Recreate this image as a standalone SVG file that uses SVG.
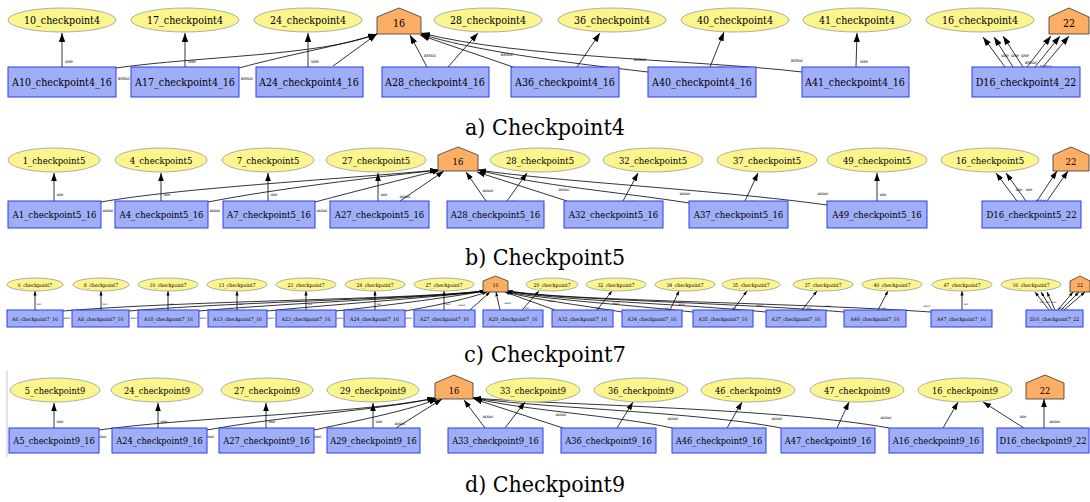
<svg xmlns="http://www.w3.org/2000/svg" width="1090" height="502" viewBox="0 0 1090 502" font-family="DejaVu Serif Condensed, DejaVu Serif, serif">
<style>
  .el{fill:#fbf58e;stroke:#9a9a9a;stroke-width:0.8}
  .nd{fill:#a0aef8;stroke:#2b3bf5;stroke-width:1}
  .pt{fill:#fcae64;stroke:#333;stroke-width:0.8}
  .e{fill:none;stroke:#000;stroke-width:0.8}
  .t{fill:#000;text-anchor:middle;dominant-baseline:central}
  .ta{font-size:10.6px}
  .tb{font-size:9.5px}
  .tc{font-size:5.2px}
  .td{font-size:9.2px}
  .lb{fill:#000;text-anchor:middle}
  .la{font-size:5px}
  .lbb{font-size:4.4px}
  .lc{font-size:2.8px}
  .ld{font-size:4.4px}
  .cap{font-family:"DejaVu Serif",serif;font-size:23px;fill:#000;text-anchor:middle}
  .ea{marker-end:url(#ha)}
  .eb{marker-end:url(#hb)}
  .ec{marker-end:url(#hc)}
</style>
<defs>
  <marker id="ha" viewBox="0 0 10 7" refX="10" refY="3.5" markerWidth="9" markerHeight="6.5" markerUnits="userSpaceOnUse" orient="auto"><path d="M0,0 L10,3.5 L0,7 z" fill="#000"/></marker>
  <marker id="hb" viewBox="0 0 10 7" refX="10" refY="3.5" markerWidth="8" markerHeight="6" markerUnits="userSpaceOnUse" orient="auto"><path d="M0,0 L10,3.5 L0,7 z" fill="#000"/></marker>
  <marker id="hc" viewBox="0 0 10 7" refX="10" refY="3.5" markerWidth="4.5" markerHeight="3.2" markerUnits="userSpaceOnUse" orient="auto"><path d="M0,0 L10,3.5 L0,7 z" fill="#000"/></marker>
</defs>

<!-- ===== a) Checkpoint4 ===== -->
<g id="edges-a">
  <path class="e ea" d="M62,67 L62,33"/>
  <path class="e ea" d="M185,67 L185,33"/>
  <path class="e ea" d="M308,67 L308,33"/>
  <path class="e ea" d="M856,67 L857,33"/>
  <path class="e ea" d="M448,67 L478,33"/>
  <path class="e ea" d="M577,67 L600,33"/>
  <path class="e ea" d="M710,67 L724,32"/>
  <path class="e ea" d="M1005,67 L983,37"/>
  <path class="e ea" d="M1013,67 L994,37"/>
  <path class="e ea" d="M1023,67 L1003,36"/>
  <path class="e ea" d="M116,68 C200,56 320,56 377,34"/>
  <path class="e ea" d="M239,68 C290,54 340,46 377,34"/>
  <path class="e ea" d="M333,66 L377,34"/>
  <path class="e ea" d="M427,67 L410,35"/>
  <path class="e ea" d="M513,67 L420,35"/>
  <path class="e ea" d="M648,72 C560,62 470,50 421,34"/>
  <path class="e ea" d="M802,72 C700,60 520,58 421,33"/>
  <path class="e ea" d="M1027,67 L1051,36"/>
  <path class="e ea" d="M1035,67 L1060,36"/>
  <path class="e ea" d="M1043,67 L1069,36"/>
  <g class="lb la">
    <text x="69" y="63">use</text><text x="192" y="63">use</text><text x="315" y="63">use</text><text x="864" y="63">use</text>
    <text x="460" y="71">use</text><text x="588" y="71">use</text><text x="722" y="69">use</text>
    <text x="1005" y="57">use</text><text x="1015" y="57">use</text><text x="1025" y="57">use</text>
    <text x="124" y="80">assoc</text><text x="247" y="80">assoc</text><text x="341" y="74">assoc</text>
    <text x="430" y="57">assoc</text><text x="507" y="56">assoc</text><text x="640" y="61">assoc</text><text x="797" y="62">assoc</text>
    <text x="1031" y="64">assoc</text><text x="1046" y="68">assoc</text><text x="1061" y="72">assoc</text>
  </g>
</g>
<g id="a-16"><polygon class="pt" points="399,8 421,17 421,34 377,34 377,17"/><text class="t ta" x="399" y="23">16</text></g>
<g id="a-22"><polygon class="pt" points="1069,8 1089,17 1089,34 1049,34 1049,17"/><text class="t ta" x="1069" y="23">22</text></g>
<g id="a-10"><ellipse class="el" cx="62" cy="20" rx="54" ry="12"/><text class="t ta" x="62" y="20">10_checkpoint4</text></g>
<g id="a-17"><ellipse class="el" cx="185" cy="20" rx="54" ry="12"/><text class="t ta" x="185" y="20">17_checkpoint4</text></g>
<g id="a-24"><ellipse class="el" cx="308" cy="20" rx="54" ry="12"/><text class="t ta" x="308" y="20">24_checkpoint4</text></g>
<g id="a-28"><ellipse class="el" cx="488" cy="20" rx="54" ry="12"/><text class="t ta" x="488" y="20">28_checkpoint4</text></g>
<g id="a-36"><ellipse class="el" cx="612" cy="20" rx="54" ry="12"/><text class="t ta" x="612" y="20">36_checkpoint4</text></g>
<g id="a-40"><ellipse class="el" cx="735" cy="20" rx="54" ry="12"/><text class="t ta" x="735" y="20">40_checkpoint4</text></g>
<g id="a-41"><ellipse class="el" cx="857" cy="20" rx="54" ry="12"/><text class="t ta" x="857" y="20">41_checkpoint4</text></g>
<g id="a-16c"><ellipse class="el" cx="980" cy="20" rx="54" ry="12"/><text class="t ta" x="980" y="20">16_checkpoint4</text></g>
<g id="a-A10"><rect class="nd" x="8" y="67" width="108" height="30"/><text class="t ta" x="62" y="82">A10_checkpoint4_16</text></g>
<g id="a-A17"><rect class="nd" x="131" y="67" width="108" height="30"/><text class="t ta" x="185" y="82">A17_checkpoint4_16</text></g>
<g id="a-A24"><rect class="nd" x="256" y="67" width="107" height="30"/><text class="t ta" x="309" y="82">A24_checkpoint4_16</text></g>
<g id="a-A28"><rect class="nd" x="382" y="67" width="107" height="30"/><text class="t ta" x="435" y="82">A28_checkpoint4_16</text></g>
<g id="a-A36"><rect class="nd" x="511" y="67" width="108" height="30"/><text class="t ta" x="565" y="82">A36_checkpoint4_16</text></g>
<g id="a-A40"><rect class="nd" x="648" y="67" width="108" height="30"/><text class="t ta" x="702" y="82">A40_checkpoint4_16</text></g>
<g id="a-A41"><rect class="nd" x="802" y="67" width="107" height="30"/><text class="t ta" x="855" y="82">A41_checkpoint4_16</text></g>
<g id="a-D16"><rect class="nd" x="972" y="67" width="108" height="30"/><text class="t ta" x="1026" y="82">D16_checkpoint4_22</text></g>
<text class="cap" x="545" y="135" textLength="160" lengthAdjust="spacingAndGlyphs">a) Checkpoint4</text>

<!-- ===== b) Checkpoint5 ===== -->
<g id="edges-b">
  <path class="e eb" d="M54,201 L54,173"/>
  <path class="e eb" d="M161,201 L161,173"/>
  <path class="e eb" d="M268,201 L268,173"/>
  <path class="e eb" d="M378,201 L378,173"/>
  <path class="e eb" d="M877,201 L877,173"/>
  <path class="e eb" d="M507,201 L527,173"/>
  <path class="e eb" d="M623,201 L638,173"/>
  <path class="e eb" d="M745,201 L758,173"/>
  <path class="e eb" d="M1017,201 L996,173"/>
  <path class="e eb" d="M1026,201 L1006,173"/>
  <path class="e eb" d="M1037,201 L1057,171"/>
  <path class="e eb" d="M1047,201 L1068,171"/>
  <path class="e eb" d="M101,202 C180,188 330,180 438,170"/>
  <path class="e eb" d="M208,202 C280,188 370,178 438,170"/>
  <path class="e eb" d="M315,202 C360,190 400,180 440,170"/>
  <path class="e eb" d="M400,201 L444,171"/>
  <path class="e eb" d="M486,201 L466,172"/>
  <path class="e eb" d="M567,201 L477,172"/>
  <path class="e eb" d="M689,203 C620,192 540,186 478,170"/>
  <path class="e eb" d="M827,205 C720,190 560,182 478,170"/>
  <g class="lb lbb">
    <text x="60" y="196">use</text><text x="167" y="196">use</text><text x="274" y="196">use</text><text x="384" y="196">use</text><text x="883" y="196">use</text>
    <text x="514" y="203">use</text><text x="633" y="203">use</text><text x="753" y="203">use</text>
    <text x="1019" y="191">use</text><text x="1029" y="191">use</text>
    <text x="108" y="212">assoc</text><text x="215" y="212">assoc</text><text x="322" y="212">assoc</text><text x="405" y="198">assoc</text>
    <text x="488" y="192">assoc</text><text x="564" y="191">assoc</text><text x="685" y="195">assoc</text><text x="823" y="195">assoc</text>
    <text x="1041" y="202">assoc</text><text x="1055" y="205">assoc</text>
  </g>
</g>
<g id="b-16"><polygon class="pt" points="458,147 478,155 478,171 438,171 438,155"/><text class="t tb" x="458" y="161">16</text></g>
<g id="b-22"><polygon class="pt" points="1071,147 1089,155 1089,171 1053,171 1053,155"/><text class="t tb" x="1071" y="161">22</text></g>
<g id="b-1"><ellipse class="el" cx="54" cy="160" rx="46" ry="12"/><text class="t tb" x="54" y="160">1_checkpoint5</text></g>
<g id="b-4"><ellipse class="el" cx="161" cy="160" rx="46" ry="12"/><text class="t tb" x="161" y="160">4_checkpoint5</text></g>
<g id="b-7"><ellipse class="el" cx="268" cy="160" rx="46" ry="12"/><text class="t tb" x="268" y="160">7_checkpoint5</text></g>
<g id="b-27"><ellipse class="el" cx="376" cy="160" rx="50" ry="12"/><text class="t tb" x="376" y="160">27_checkpoint5</text></g>
<g id="b-28"><ellipse class="el" cx="540" cy="160" rx="50" ry="12"/><text class="t tb" x="540" y="160">28_checkpoint5</text></g>
<g id="b-32"><ellipse class="el" cx="653" cy="160" rx="50" ry="12"/><text class="t tb" x="653" y="160">32_checkpoint5</text></g>
<g id="b-37"><ellipse class="el" cx="767" cy="160" rx="50" ry="12"/><text class="t tb" x="767" y="160">37_checkpoint5</text></g>
<g id="b-49"><ellipse class="el" cx="877" cy="160" rx="50" ry="12"/><text class="t tb" x="877" y="160">49_checkpoint5</text></g>
<g id="b-16c"><ellipse class="el" cx="990" cy="160" rx="49" ry="12"/><text class="t tb" x="990" y="160">16_checkpoint5</text></g>
<g id="b-A1"><rect class="nd" x="8" y="201" width="93" height="27"/><text class="t tb" x="54.5" y="214.5">A1_checkpoint5_16</text></g>
<g id="b-A4"><rect class="nd" x="115" y="201" width="93" height="27"/><text class="t tb" x="161.5" y="214.5">A4_checkpoint5_16</text></g>
<g id="b-A7"><rect class="nd" x="223" y="201" width="92" height="27"/><text class="t tb" x="269" y="214.5">A7_checkpoint5_16</text></g>
<g id="b-A27"><rect class="nd" x="330" y="201" width="99" height="27"/><text class="t tb" x="379.5" y="214.5">A27_checkpoint5_16</text></g>
<g id="b-A28"><rect class="nd" x="447" y="201" width="97" height="27"/><text class="t tb" x="495.5" y="214.5">A28_checkpoint5_16</text></g>
<g id="b-A32"><rect class="nd" x="564" y="201" width="99" height="27"/><text class="t tb" x="613.5" y="214.5">A32_checkpoint5_16</text></g>
<g id="b-A37"><rect class="nd" x="689" y="201" width="99" height="27"/><text class="t tb" x="738.5" y="214.5">A37_checkpoint5_16</text></g>
<g id="b-A49"><rect class="nd" x="827" y="201" width="100" height="27"/><text class="t tb" x="877" y="214.5">A49_checkpoint5_16</text></g>
<g id="b-D16"><rect class="nd" x="982" y="201" width="99" height="27"/><text class="t tb" x="1031.5" y="214.5">D16_checkpoint5_22</text></g>
<text class="cap" x="545" y="265" textLength="160" lengthAdjust="spacingAndGlyphs">b) Checkpoint5</text>

<!-- ===== c) Checkpoint7 ===== -->
<g id="edges-c">
  <path class="e ec" d="M35,310 L35,291"/>
  <path class="e ec" d="M101,310 L101,291"/>
  <path class="e ec" d="M168,310 L168,291"/>
  <path class="e ec" d="M237,310 L237,291"/>
  <path class="e ec" d="M306,310 L306,291"/>
  <path class="e ec" d="M375,310 L375,291"/>
  <path class="e ec" d="M444,310 L444,291"/>
  <path class="e ec" d="M962,310 L962,291"/>
  <path class="e ec" d="M522,310 L539,291"/>
  <path class="e ec" d="M597,310 L612,291"/>
  <path class="e ec" d="M670,310 L679,291"/>
  <path class="e ec" d="M733,310 L747,291"/>
  <path class="e ec" d="M802,310 L817,291"/>
  <path class="e ec" d="M878,310 L888,291"/>
  <path class="e ec" d="M1049,310 L1035,292"/>
  <path class="e ec" d="M1052,310 L1041,292"/>
  <path class="e ec" d="M1055,310 L1047,292"/>
  <path class="e ec" d="M1058,310 L1073,292"/>
  <path class="e ec" d="M1061,310 L1079,292"/>
  <path class="e ec" d="M1064,310 L1085,292"/>
  <path class="e ec" d="M63,311 C200,300 400,300 484,291"/>
  <path class="e ec" d="M129,311 C250,301 420,299 484,291"/>
  <path class="e ec" d="M199,311 C300,302 430,298 485,291"/>
  <path class="e ec" d="M267,311 C350,303 440,297 485,291"/>
  <path class="e ec" d="M336,311 C400,304 450,297 486,291"/>
  <path class="e ec" d="M405,311 C440,305 470,298 487,292"/>
  <path class="e ec" d="M470,310 L490,292"/>
  <path class="e ec" d="M500,310 L496,292"/>
  <path class="e ec" d="M555,310 L505,292"/>
  <path class="e ec" d="M622,312 C580,305 530,299 507,292"/>
  <path class="e ec" d="M693,312 C620,304 540,299 508,292"/>
  <path class="e ec" d="M766,312 C670,303 550,300 508,291"/>
  <path class="e ec" d="M844,312 C720,302 560,300 508,291"/>
  <path class="e ec" d="M931,312 C780,302 570,301 508,291"/>
  <g class="lb lc">
    <text x="39" y="305">use</text><text x="105" y="305">use</text><text x="172" y="305">use</text><text x="241" y="305">use</text><text x="310" y="305">use</text><text x="379" y="305">use</text><text x="448" y="305">use</text><text x="966" y="305">use</text>
    <text x="527" y="309">use</text><text x="598" y="309">use</text><text x="667" y="309">use</text><text x="734" y="309">use</text><text x="809" y="309">use</text><text x="884" y="309">use</text>
    <text x="1042" y="303">use</text><text x="1048" y="303">use</text><text x="1054" y="303">use</text>
    <text x="67" y="319">assoc</text><text x="134" y="319">assoc</text><text x="203" y="319">assoc</text><text x="271" y="319">assoc</text><text x="340" y="319">assoc</text><text x="409" y="319">assoc</text>
    <text x="462" y="306">assoc</text><text x="508" y="304">assoc</text><text x="552" y="302">assoc</text><text x="616" y="304">assoc</text><text x="682" y="305">assoc</text><text x="760" y="306">assoc</text><text x="828" y="307">assoc</text><text x="927" y="307">assoc</text>
    <text x="1061" y="309">assoc</text><text x="1070" y="311">assoc</text>
  </g>
</g>
<g id="c-16"><polygon class="pt" points="495.5,276 508,281 508,292 483,292 483,281"/><text class="t tc" x="495.5" y="285">16</text></g>
<g id="c-22"><polygon class="pt" points="1080,276 1090,281 1090,292 1070,292 1070,281"/><text class="t tc" x="1080" y="285">22</text></g>
<g id="c-6"><ellipse class="el" cx="35" cy="284.5" rx="28" ry="6.5"/><text class="t tc" x="35" y="284.5">6_checkpoint7</text></g>
<g id="c-8"><ellipse class="el" cx="101" cy="284.5" rx="28" ry="6.5"/><text class="t tc" x="101" y="284.5">8_checkpoint7</text></g>
<g id="c-10"><ellipse class="el" cx="168" cy="284.5" rx="30" ry="6.5"/><text class="t tc" x="168" y="284.5">10_checkpoint7</text></g>
<g id="c-13"><ellipse class="el" cx="237" cy="284.5" rx="30" ry="6.5"/><text class="t tc" x="237" y="284.5">13_checkpoint7</text></g>
<g id="c-23"><ellipse class="el" cx="306" cy="284.5" rx="30" ry="6.5"/><text class="t tc" x="306" y="284.5">23_checkpoint7</text></g>
<g id="c-24"><ellipse class="el" cx="375" cy="284.5" rx="30" ry="6.5"/><text class="t tc" x="375" y="284.5">24_checkpoint7</text></g>
<g id="c-27"><ellipse class="el" cx="444" cy="284.5" rx="30" ry="6.5"/><text class="t tc" x="444" y="284.5">27_checkpoint7</text></g>
<g id="c-29"><ellipse class="el" cx="552" cy="284.5" rx="26" ry="6.5"/><text class="t tc" x="552" y="284.5">29_checkpoint7</text></g>
<g id="c-32"><ellipse class="el" cx="616" cy="284.5" rx="30" ry="6.5"/><text class="t tc" x="616" y="284.5">32_checkpoint7</text></g>
<g id="c-34"><ellipse class="el" cx="685" cy="284.5" rx="30" ry="6.5"/><text class="t tc" x="685" y="284.5">34_checkpoint7</text></g>
<g id="c-35"><ellipse class="el" cx="751" cy="284.5" rx="29" ry="6.5"/><text class="t tc" x="751" y="284.5">35_checkpoint7</text></g>
<g id="c-37"><ellipse class="el" cx="823" cy="284.5" rx="30" ry="6.5"/><text class="t tc" x="823" y="284.5">37_checkpoint7</text></g>
<g id="c-40"><ellipse class="el" cx="892" cy="284.5" rx="30" ry="6.5"/><text class="t tc" x="892" y="284.5">40_checkpoint7</text></g>
<g id="c-47"><ellipse class="el" cx="962" cy="284.5" rx="30" ry="6.5"/><text class="t tc" x="962" y="284.5">47_checkpoint7</text></g>
<g id="c-16c"><ellipse class="el" cx="1031" cy="284.5" rx="30" ry="6.5"/><text class="t tc" x="1031" y="284.5">16_checkpoint7</text></g>
<g id="c-A6"><rect class="nd" x="7" y="310" width="56" height="17"/><text class="t tc" x="35" y="318.5">A6_checkpoint7_16</text></g>
<g id="c-A8"><rect class="nd" x="72" y="310" width="57" height="17"/><text class="t tc" x="100.5" y="318.5">A8_checkpoint7_16</text></g>
<g id="c-A10"><rect class="nd" x="138" y="310" width="61" height="17"/><text class="t tc" x="168.5" y="318.5">A10_checkpoint7_16</text></g>
<g id="c-A13"><rect class="nd" x="208" y="310" width="59" height="17"/><text class="t tc" x="237.5" y="318.5">A13_checkpoint7_16</text></g>
<g id="c-A23"><rect class="nd" x="276" y="310" width="60" height="17"/><text class="t tc" x="306" y="318.5">A23_checkpoint7_16</text></g>
<g id="c-A24"><rect class="nd" x="344" y="310" width="61" height="17"/><text class="t tc" x="374.5" y="318.5">A24_checkpoint7_16</text></g>
<g id="c-A27"><rect class="nd" x="414" y="310" width="61" height="17"/><text class="t tc" x="444.5" y="318.5">A27_checkpoint7_16</text></g>
<g id="c-A29"><rect class="nd" x="483" y="310" width="60" height="17"/><text class="t tc" x="513" y="318.5">A29_checkpoint7_16</text></g>
<g id="c-A32"><rect class="nd" x="552" y="310" width="61" height="17"/><text class="t tc" x="582.5" y="318.5">A32_checkpoint7_16</text></g>
<g id="c-A34"><rect class="nd" x="622" y="310" width="60" height="17"/><text class="t tc" x="652" y="318.5">A34_checkpoint7_16</text></g>
<g id="c-A35"><rect class="nd" x="693" y="310" width="60" height="17"/><text class="t tc" x="723" y="318.5">A35_checkpoint7_16</text></g>
<g id="c-A37"><rect class="nd" x="766" y="310" width="60" height="17"/><text class="t tc" x="796" y="318.5">A37_checkpoint7_16</text></g>
<g id="c-A40"><rect class="nd" x="844" y="310" width="62" height="17"/><text class="t tc" x="875" y="318.5">A40_checkpoint7_16</text></g>
<g id="c-A47"><rect class="nd" x="931" y="310" width="61" height="17"/><text class="t tc" x="961.5" y="318.5">A47_checkpoint7_16</text></g>
<g id="c-D16"><rect class="nd" x="1026" y="310" width="57" height="17"/><text class="t tc" x="1054.5" y="318.5">D16_checkpoint7_22</text></g>
<text class="cap" x="545" y="362" textLength="162" lengthAdjust="spacingAndGlyphs">c) Checkpoint7</text>

<!-- ===== d) Checkpoint9 ===== -->
<line x1="7" y1="371" x2="7" y2="457" stroke="#c8c8c8" stroke-width="1"/>
<g id="edges-d">
  <path class="e eb" d="M54,428 L54,403"/>
  <path class="e eb" d="M158,428 L158,403"/>
  <path class="e eb" d="M266,428 L266,403"/>
  <path class="e eb" d="M373,428 L373,403"/>
  <path class="e eb" d="M505,428 L525,402"/>
  <path class="e eb" d="M617,428 L633,402"/>
  <path class="e eb" d="M727,428 L742,402"/>
  <path class="e eb" d="M837,428 L849,402"/>
  <path class="e eb" d="M943,428 L958,402"/>
  <path class="e eb" d="M1024,428 L983,402"/>
  <path class="e eb" d="M1044,428 L1044,399"/>
  <path class="e eb" d="M485,428 L464,400"/>
  <path class="e eb" d="M563,428 L474,399"/>
  <path class="e eb" d="M672,428 C620,416 520,410 473,398"/>
  <path class="e eb" d="M781,428 C700,412 540,408 473,398"/>
  <path class="e eb" d="M889,428 C780,408 560,405 473,398"/>
  <path class="e eb" d="M99,430 C200,416 360,414 435,398"/>
  <path class="e eb" d="M207,430 C290,415 380,410 436,398"/>
  <path class="e eb" d="M314,430 C370,418 410,410 437,399"/>
  <path class="e eb" d="M396,428 L442,399"/>
  <g class="lb ld">
    <text x="60" y="423">use</text><text x="164" y="423">use</text><text x="272" y="423">use</text><text x="379" y="423">use</text>
    <text x="512" y="431">use</text><text x="626" y="431">use</text><text x="737" y="430">use</text><text x="847" y="430">use</text><text x="955" y="430">use</text><text x="1023" y="418">use</text>
    <text x="101" y="438">assoc</text><text x="209" y="438">assoc</text><text x="316" y="438">assoc</text><text x="400" y="425">assoc</text>
    <text x="488" y="418">assoc</text><text x="561" y="416">assoc</text><text x="673" y="420">assoc</text><text x="777" y="420">assoc</text><text x="886" y="419">assoc</text><text x="1055" y="423">assoc</text>
  </g>
</g>
<g id="d-16"><polygon class="pt" points="454,375 473,383 473,399 435,399 435,383"/><text class="t td" x="454" y="390">16</text></g>
<g id="d-22"><polygon class="pt" points="1045,375 1064,383 1064,399 1026,399 1026,383"/><text class="t td" x="1045" y="390">22</text></g>
<g id="d-5"><ellipse class="el" cx="55" cy="390" rx="45" ry="12"/><text class="t td" x="55" y="390">5_checkpoint9</text></g>
<g id="d-24"><ellipse class="el" cx="157" cy="390" rx="46" ry="12"/><text class="t td" x="157" y="390">24_checkpoint9</text></g>
<g id="d-27"><ellipse class="el" cx="267" cy="390" rx="46" ry="12"/><text class="t td" x="267" y="390">27_checkpoint9</text></g>
<g id="d-29"><ellipse class="el" cx="373" cy="390" rx="46" ry="12"/><text class="t td" x="373" y="390">29_checkpoint9</text></g>
<g id="d-33"><ellipse class="el" cx="533" cy="390" rx="47" ry="12"/><text class="t td" x="533" y="390">33_checkpoint9</text></g>
<g id="d-36"><ellipse class="el" cx="641" cy="390" rx="47" ry="12"/><text class="t td" x="641" y="390">36_checkpoint9</text></g>
<g id="d-46"><ellipse class="el" cx="748" cy="390" rx="47" ry="12"/><text class="t td" x="748" y="390">46_checkpoint9</text></g>
<g id="d-47"><ellipse class="el" cx="857" cy="390" rx="47" ry="12"/><text class="t td" x="857" y="390">47_checkpoint9</text></g>
<g id="d-16c"><ellipse class="el" cx="965" cy="390" rx="47" ry="12"/><text class="t td" x="965" y="390">16_checkpoint9</text></g>
<g id="d-A5"><rect class="nd" x="9" y="428" width="90" height="25"/><text class="t td" x="54" y="440.5">A5_checkpoint9_16</text></g>
<g id="d-A24"><rect class="nd" x="112" y="428" width="95" height="25"/><text class="t td" x="159.5" y="440.5">A24_checkpoint9_16</text></g>
<g id="d-A27"><rect class="nd" x="219" y="428" width="95" height="25"/><text class="t td" x="266.5" y="440.5">A27_checkpoint9_16</text></g>
<g id="d-A29"><rect class="nd" x="327" y="428" width="93" height="25"/><text class="t td" x="373.5" y="440.5">A29_checkpoint9_16</text></g>
<g id="d-A33"><rect class="nd" x="448" y="428" width="95" height="25"/><text class="t td" x="495.5" y="440.5">A33_checkpoint9_16</text></g>
<g id="d-A36"><rect class="nd" x="561" y="428" width="95" height="25"/><text class="t td" x="608.5" y="440.5">A36_checkpoint9_16</text></g>
<g id="d-A46"><rect class="nd" x="672" y="428" width="94" height="25"/><text class="t td" x="719" y="440.5">A46_checkpoint9_16</text></g>
<g id="d-A47"><rect class="nd" x="781" y="428" width="94" height="25"/><text class="t td" x="828" y="440.5">A47_checkpoint9_16</text></g>
<g id="d-A16"><rect class="nd" x="889" y="428" width="94" height="25"/><text class="t td" x="936" y="440.5">A16_checkpoint9_16</text></g>
<g id="d-D16"><rect class="nd" x="997" y="428" width="92" height="25"/><text class="t td" x="1043" y="440.5">D16_checkpoint9_22</text></g>
<text class="cap" x="545" y="492" textLength="160" lengthAdjust="spacingAndGlyphs">d) Checkpoint9</text>
</svg>
